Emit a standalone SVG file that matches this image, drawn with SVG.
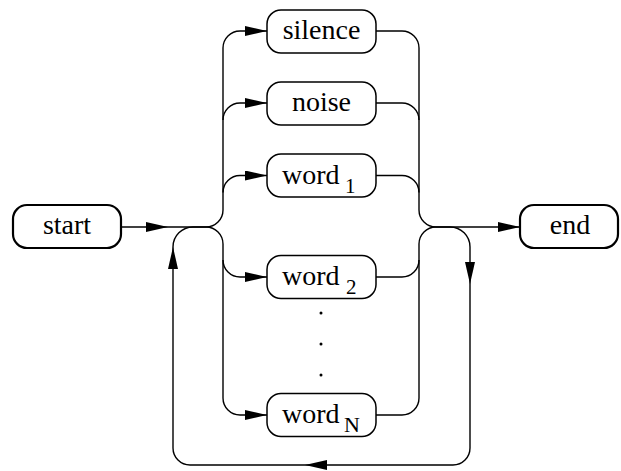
<svg xmlns="http://www.w3.org/2000/svg" width="621" height="471" viewBox="0 0 621 471">
<style>
.box{fill:#fff;stroke:#000;stroke-width:1.5}
.term{fill:#fff;stroke:#000;stroke-width:2.2}
.c{fill:none;stroke:#000;stroke-width:1.4}
</style>
<defs>
<marker id="ah" markerUnits="userSpaceOnUse" markerWidth="22" markerHeight="10" refX="22" refY="5" orient="auto">
<path d="M0,0 L22,5 L0,10 Z" fill="#000"/>
</marker>
</defs>
<g id="connectors">
<path class="c" d="M121 227 H168" marker-end="url(#ah)"/>
<path class="c" d="M168 227 H206"/>
<path class="c" d="M206 227 A17 17 0 0 0 223 210 V48 A17 17 0 0 1 240 31 H267" marker-end="url(#ah)"/>
<path class="c" d="M223 120 A17 17 0 0 1 240 103 H267" marker-end="url(#ah)"/>
<path class="c" d="M223 192.5 A17 17 0 0 1 240 175.5 H267" marker-end="url(#ah)"/>
<path class="c" d="M206 227 A17 17 0 0 1 223 244 V398 A17 17 0 0 0 240 415 H267" marker-end="url(#ah)"/>
<path class="c" d="M223 260 A17 17 0 0 0 240 277 H267" marker-end="url(#ah)"/>
<path class="c" d="M376 31 H402 A17 17 0 0 1 419 48 V210 A17 17 0 0 0 436 227"/>
<path class="c" d="M376 103 H402 A17 17 0 0 1 419 120"/>
<path class="c" d="M376 175.5 H402 A17 17 0 0 1 419 192.5"/>
<path class="c" d="M376 277 H402 A17 17 0 0 0 419 260"/>
<path class="c" d="M376 415 H402 A17 17 0 0 0 419 398 V244 A17 17 0 0 1 436 227"/>
<path class="c" d="M436 227 H520" marker-end="url(#ah)"/>
<path class="c" d="M436 227 H450 A20 20 0 0 1 470 247 V284" marker-end="url(#ah)"/>
<path class="c" d="M470 284 V448 A17 17 0 0 1 453 465 H305" marker-end="url(#ah)"/>
<path class="c" d="M305 465 H190 A17 17 0 0 1 173 448 V247" marker-end="url(#ah)"/>
<path class="c" d="M173 247 A20 20 0 0 1 193 227 H206"/>
</g>
<g font-family="'Liberation Serif', 'DejaVu Serif', serif" font-size="28" fill="#000">
<g id="start">
<rect class="term" x="13" y="205" width="108" height="43" rx="14"/>
<text x="67" y="234" text-anchor="middle">start</text>
</g>
<g id="end">
<rect class="term" x="520" y="205" width="98" height="43" rx="14"/>
<text x="570" y="234" text-anchor="middle">end</text>
</g>
<g id="silence">
<rect class="box" x="267" y="10" width="109" height="43" rx="14"/>
<text x="321.5" y="38.5" text-anchor="middle">silence</text>
</g>
<g id="noise">
<rect class="box" x="267" y="82" width="109" height="43" rx="14"/>
<text x="321.5" y="110.5" text-anchor="middle">noise</text>
</g>
<g id="word1">
<rect class="box" x="267" y="154" width="109" height="43" rx="14"/>
<text x="282" y="183.5">word<tspan font-size="21" x="345" dy="9">1</tspan></text>
</g>
<g id="word2">
<rect class="box" x="267" y="255.5" width="109" height="43" rx="14"/>
<text x="282" y="285">word<tspan font-size="21" x="346" dy="8.5">2</tspan></text>
</g>
<g id="dots">
<circle cx="321" cy="313" r="1.5"/>
<circle cx="321" cy="344" r="1.5"/>
<circle cx="321" cy="375" r="1.5"/>
</g>
<g id="wordN">
<rect class="box" x="267" y="393.5" width="109" height="43" rx="14"/>
<text x="282" y="422.5">word<tspan font-size="22" x="344" dy="9.5">N</tspan></text>
</g>
</g>
</svg>
